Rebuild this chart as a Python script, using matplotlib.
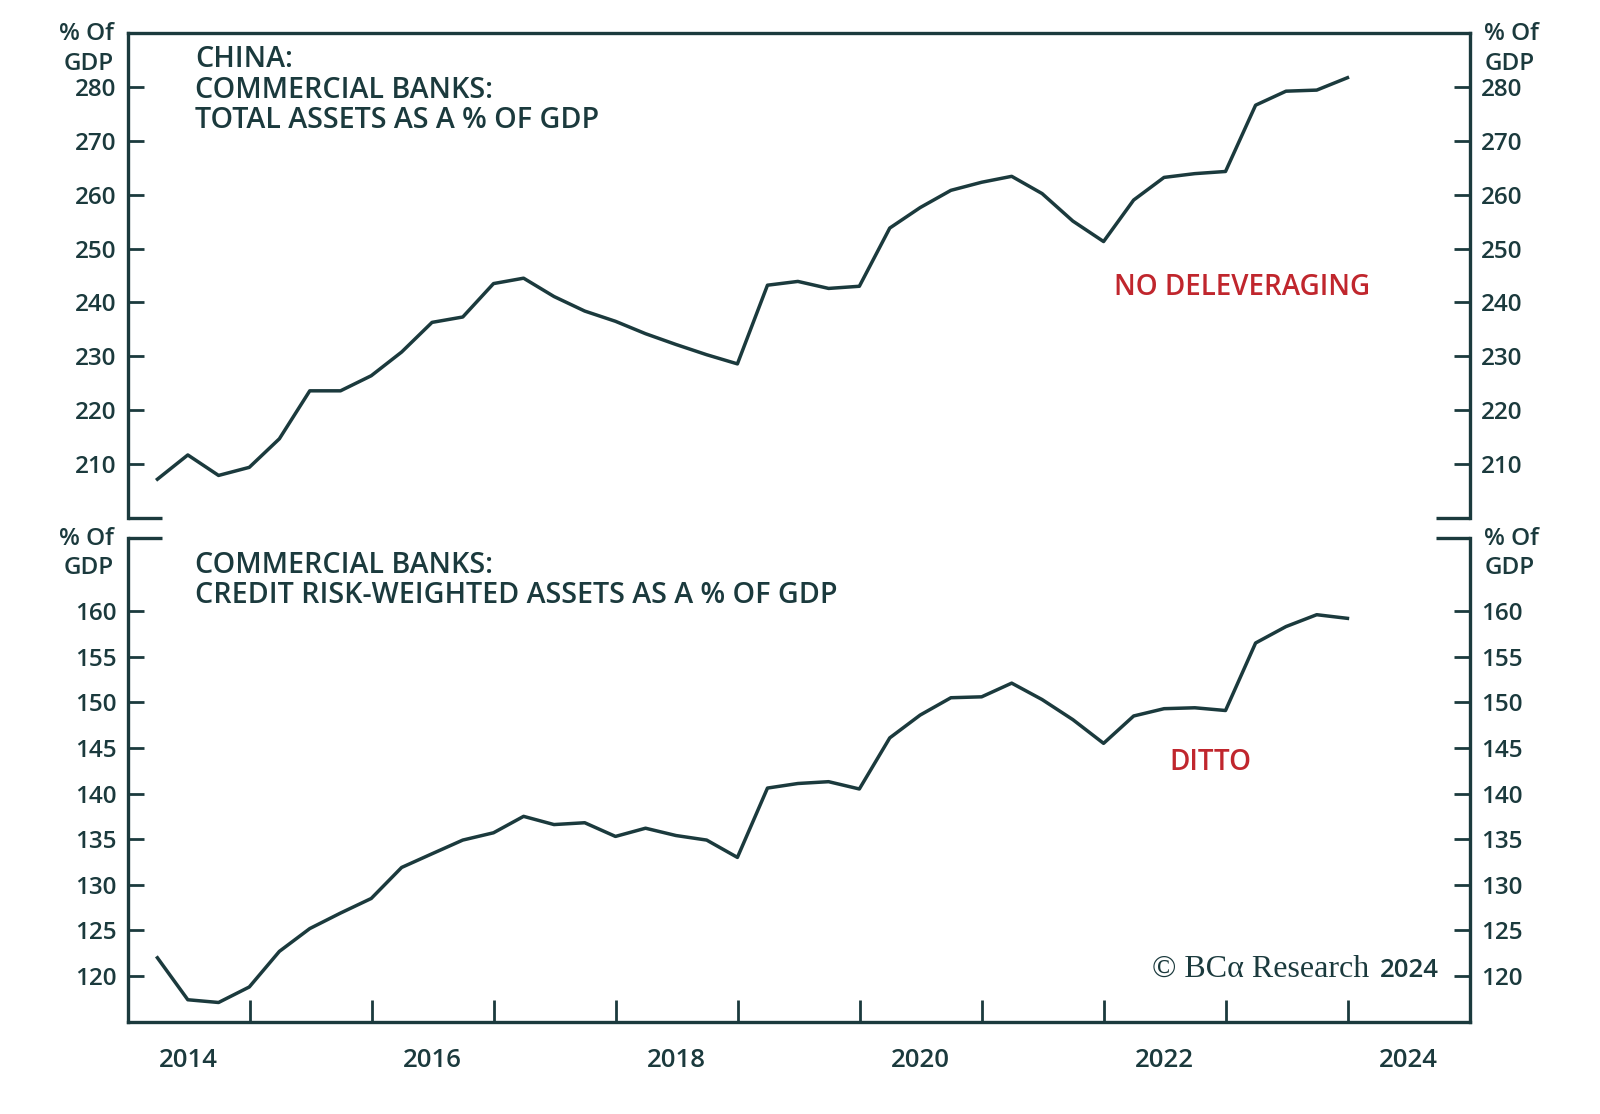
import pandas as pd
import matplotlib
matplotlib.use('Agg')
from matplotlib import pyplot as plt
from matplotlib import font_manager as fm

# quarterly observations, Q1 2014 .. Q4 2023
dates = pd.date_range('2014-03-31', periods=40, freq='QE')

total_assets = [207.2, 211.7, 207.9, 209.4, 214.7, 223.6, 223.6, 226.4,
                230.8, 236.3, 237.3, 243.5, 244.5, 241.1, 238.4, 236.5,
                234.2, 232.2, 230.3, 228.6, 243.2, 243.9, 242.6, 243.0,
                253.8, 257.6, 260.8, 262.3, 263.4, 260.2, 255.1, 251.3,
                259.0, 263.2, 263.9, 264.3, 276.6, 279.2, 279.4, 281.7]

rwa_assets = [122.0, 117.4, 117.1, 118.8, 122.7, 125.2, 126.9, 128.5,
              131.9, 133.4, 134.9, 135.7, 137.5, 136.6, 136.8, 135.3,
              136.2, 135.4, 134.9, 133.0, 140.6, 141.1, 141.3, 140.5,
              146.1, 148.6, 150.5, 150.6, 152.1, 150.3, 148.1, 145.5,
              148.5, 149.3, 149.4, 149.1, 156.5, 158.3, 159.6, 159.2]

top_ticks = [210, 220, 230, 240, 250, 260, 270, 280]
bottom_ticks = [120, 125, 130, 135, 140, 145, 150, 155, 160]
year_labels = ['2014', '2016', '2018', '2020', '2022', '2024']

top_title = "CHINA:\nCOMMERCIAL BANKS:\nTOTAL ASSETS AS A % OF GDP"
bottom_title = "COMMERCIAL BANKS:\nCREDIT RISK-WEIGHTED ASSETS AS A % OF GDP"

INK = '#1b3a3d'
RED = '#c0262d'

# use a semibold face if one is installed, else fall back to Open Sans bold
FAMILY, WEIGHT = 'Open Sans', 'bold'
for fam in ['Noto Sans', 'Open Sans', 'Inter']:
    p = fm.findfont(fm.FontProperties(family=fam, weight='semibold'), fallback_to_default=False)
    if 'semibold' in p.lower().replace('-', '').replace('_', ''):
        FAMILY, WEIGHT = fam, 'semibold'
        break
plt.rcParams['font.family'] = [FAMILY, 'DejaVu Sans']
TSIZE = 20.6 if WEIGHT == 'semibold' else 19

fig = plt.figure(figsize=(16, 11.14), dpi=100)
ax1 = fig.add_axes([0.0798, 0.535, 0.839, 0.4354])
ax2 = fig.add_axes([0.0798, 0.0829, 0.839, 0.4341])

stub = 34 / 1342


def style_axis(ax, ticks, unit_y):
    for s in ax.spines.values():
        s.set_color(INK)
        s.set_linewidth(2.4)
    ax.set_yticks(ticks)
    ax.tick_params(axis='y', which='major', direction='in', length=11.5, width=2,
                   color=INK, labelcolor=INK, labelsize=17.5, pad=8,
                   left=True, right=True, labelleft=True, labelright=True)
    for lab in ax.get_yticklabels():
        lab.set_fontweight(WEIGHT)
    ax.set_xlim(pd.Timestamp('2014-01-01'), pd.Timestamp('2025-01-01'))
    # unit labels above tick labels on both sides
    ax.text(-0.0105, unit_y, "% Of\nGDP", transform=ax.transAxes, ha='right', va='center',
            fontsize=17.5, fontweight=WEIGHT, color=INK, linespacing=1.3)
    ax.text(1.0105, unit_y, "% Of\nGDP", transform=ax.transAxes, ha='left', va='center',
            fontsize=17.5, fontweight=WEIGHT, color=INK, linespacing=1.3)


# top panel
ax1.plot(dates, total_assets, color=INK, lw=2.5)
ax1.set_ylim(200, 290)
style_axis(ax1, top_ticks, 0.967)
ax1.spines['bottom'].set_visible(False)
ax1.tick_params(axis='x', which='both', bottom=False, labelbottom=False)
ax1.plot([0, stub], [0, 0], transform=ax1.transAxes, color=INK, lw=2.4, clip_on=False,
         solid_capstyle='butt')
ax1.plot([1 - stub, 1], [0, 0], transform=ax1.transAxes, color=INK, lw=2.4, clip_on=False,
         solid_capstyle='butt')
ax1.text(0.05, 0.975, top_title, transform=ax1.transAxes, ha='left', va='top',
         fontsize=TSIZE, fontweight=WEIGHT, color=INK, linespacing=1.07)
ax1.text(pd.Timestamp('2023-02-20'), 242.7, "NO DELEVERAGING", ha='center', va='center',
         fontsize=20, fontweight=WEIGHT, color=RED)

# bottom panel
ax2.plot(dates, rwa_assets, color=INK, lw=2.5)
ax2.set_ylim(115, 168)
style_axis(ax2, bottom_ticks, 0.968)
ax2.spines['top'].set_visible(False)
ax2.plot([0, stub], [1, 1], transform=ax2.transAxes, color=INK, lw=2.4, clip_on=False,
         solid_capstyle='butt')
ax2.plot([1 - stub, 1], [1, 1], transform=ax2.transAxes, color=INK, lw=2.4, clip_on=False,
         solid_capstyle='butt')
ax2.text(0.05, 0.974, bottom_title, transform=ax2.transAxes, ha='left', va='top',
         fontsize=TSIZE, fontweight=WEIGHT, color=INK, linespacing=1.07)
ax2.text(pd.Timestamp('2022-11-15'), 143.35, "DITTO", ha='center', va='center',
         fontsize=20, fontweight=WEIGHT, color=RED)

# year boundaries as ticks, labels at mid-year
year_starts = [pd.Timestamp(f'{y}-01-01') for y in range(2015, 2025)]
label_pos = [pd.Timestamp(f'{y}-07-01') for y in year_labels]
ax2.set_xticks(year_starts)
ax2.set_xticklabels([])
ax2.tick_params(axis='x', which='major', direction='in', length=15.5, width=2, color=INK)
ax2.set_xticks(label_pos, minor=True)
ax2.set_xticklabels(year_labels, minor=True)
ax2.tick_params(axis='x', which='minor', length=0, pad=19, labelsize=18.5, labelcolor=INK)
for lab in ax2.get_xticklabels(minor=True):
    lab.set_fontweight(WEIGHT)

# source note
ax2.annotate("2024", xy=(0.9765, 0.106), xycoords='axes fraction', ha='right', va='center',
             fontsize=18.5, fontweight=WEIGHT, color=INK)
ax2.annotate("\u00a9 BC\u03b1 Research", xy=(0.9765, 0.106), xycoords='axes fraction',
             xytext=(-50, 1), textcoords='offset points', ha='right', va='center',
             fontsize=23, family='Liberation Serif', color=INK)

fig.savefig('out.png', dpi=100, facecolor='white')
